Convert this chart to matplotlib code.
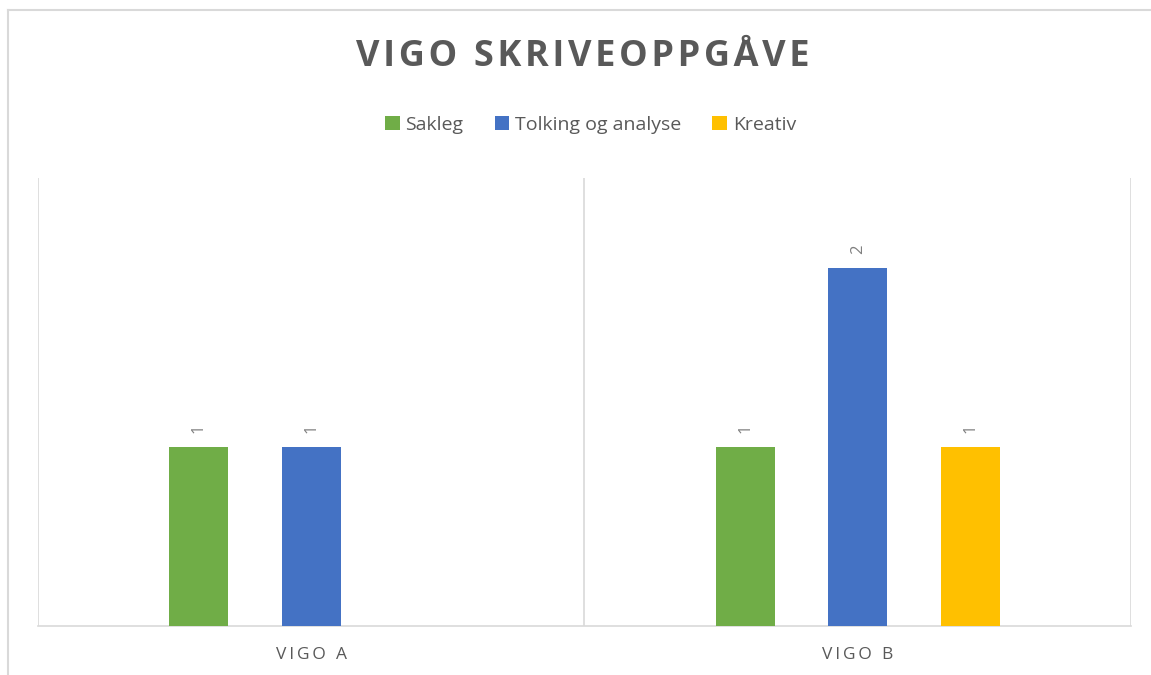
import matplotlib.pyplot as plt
import numpy as np
from matplotlib.lines import Line2D
from matplotlib.patches import Patch

categories = ['VIGO A', 'VIGO B']
series = ['Sakleg', 'Tolking og analyse', 'Kreativ']
sakleg = [1, 1]
tolking = [1, 2]
kreativ = [0, 1]
colors = ['#70AD47', '#4472C4', '#FFC000']

plt.rcParams['font.family'] = ['Open Sans', 'DejaVu Sans']

fig = plt.figure(figsize=(11.51, 6.75), dpi=100)
ax = fig.add_axes([0.033, 0.0726, 0.9496, 0.6637])

x = np.arange(len(categories))
offset = 0.206
width = 0.108
for i, (vals, col) in enumerate(zip([sakleg, tolking, kreativ], colors)):
    pos = x + (i - 1) * offset
    ax.bar(pos, vals, width=width, color=col, zorder=3)
    for p, v in zip(pos, vals):
        if v > 0:
            ax.text(p, v + 0.075, str(v), rotation=90, ha='center', va='bottom',
                    fontsize=12, color='#7F7F7F')

ax.set_xlim(-0.5, 1.5)
ax.set_ylim(0, 2.5)
ax.set_yticks([])
ax.set_xticks([])
for s in ['top', 'left', 'right']:
    ax.spines[s].set_visible(False)
ax.spines['bottom'].set_color('#D9D9D9')
ax.spines['bottom'].set_linewidth(1.2)
for g in [-0.5, 0.5, 1.5]:
    ax.axvline(g, color='#D9D9D9', lw=1.2, zorder=1)

spaced = lambda s: '\u2009'.join(s)
for xi, c in zip(x, categories):
    ax.text(xi, -0.16, spaced(c), ha='center', va='center', fontsize=12.5,
            color='#595959', transform=ax.transData)

fig.text(0.506, 0.915, '\u200a'.join('VIGO SKRIVEOPPGÅVE'), ha='center', va='center',
         fontsize=26, fontweight='bold', color='#595959')

handles = [Patch(facecolor=c) for c in colors]
fig.legend(handles, series, loc='center', bbox_to_anchor=(0.513, 0.815), ncol=3,
           frameon=False, fontsize=14, labelcolor='#595959', handlelength=0.75,
           handleheight=0.75, handletextpad=0.3, columnspacing=1.6)

fig.add_artist(Line2D([8 / 1151, 8 / 1151], [0, 1 - 10 / 675], color='#D9D9D9', lw=1.5))
fig.add_artist(Line2D([8 / 1151, 1], [1 - 10 / 675, 1 - 10 / 675], color='#D9D9D9', lw=1.5))

fig.savefig('out.png', dpi=100)
